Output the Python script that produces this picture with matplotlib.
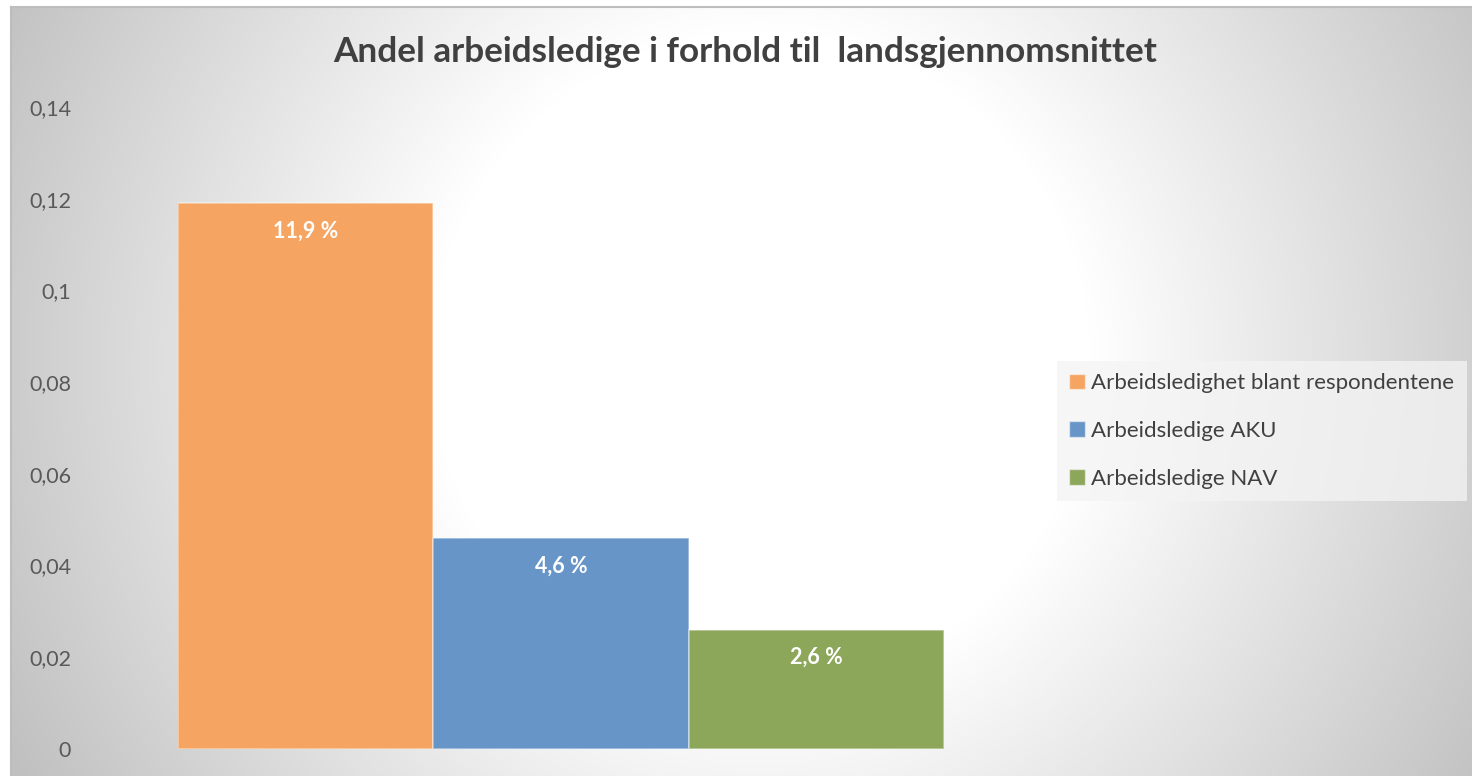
import numpy as np
import matplotlib
matplotlib.use("Agg")
import matplotlib.pyplot as plt
from matplotlib.patches import Patch

# ---- data ----
series = ["Arbeidsledighet blant respondentene", "Arbeidsledige AKU", "Arbeidsledige NAV"]
values = [0.119, 0.046, 0.026]
labels = ["11,9 %", "4,6 %", "2,6 %"]
colors = ["#F5A462", "#6895C7", "#8CA65A"]
yticks = [0, 0.02, 0.04, 0.06, 0.08, 0.10, 0.12, 0.14]
ytick_labels = ["0", "0,02", "0,04", "0,06", "0,08", "0,1", "0,12", "0,14"]
title = "Andel arbeidsledige i forhold til  landsgjennomsnittet"

W, H = 1472, 776
plt.rcParams['font.family'] = ['Lato', 'DejaVu Sans']
fig = plt.figure(figsize=(W / 100, H / 100), dpi=100)
fig.patch.set_facecolor("white")

# ---- background radial gradient ----
left_px, top_px = 11, 7
bg = fig.add_axes([left_px / W, 0, (W - left_px) / W, (H - top_px) / H])
xs = np.arange(left_px, W)
ys = np.arange(top_px, H)
X, Y = np.meshgrid(xs, ys)
cx, cy = 760, 360
d = np.sqrt((X - cx) ** 2 + (Y - cy) ** 2)
r0, r1 = 330, 850
t = np.clip((d - r0) / (r1 - r0), 0, 1)
grey = 1 - t * (255 - 192) / 255
img = np.dstack([grey, grey, grey])
bg.imshow(img, aspect="auto", extent=[0, 1, 0, 1], origin="upper")
bg.set_xlim(0, 1)
bg.set_ylim(0, 1)
bg.set_xticks([])
bg.set_yticks([])
for s in ["right", "bottom"]:
    bg.spines[s].set_visible(False)
for s in ["top", "left"]:
    bg.spines[s].set_color("#bdbdbd")
    bg.spines[s].set_linewidth(1.5)

# ---- main axes ----
ax_l, ax_r = 178, 944
ax_top, ax_bot = 107, 749
ax = fig.add_axes([ax_l / W, (H - ax_bot) / H, (ax_r - ax_l) / W, (ax_bot - ax_top) / H])
ax.patch.set_alpha(0)
x = np.arange(len(values))
bars = ax.bar(x, values, width=1.0, color=colors, edgecolor=(1, 1, 1, 0.45), linewidth=1.2)
ax.set_xlim(-0.5, 2.5)
ax.set_ylim(0, 0.14)
ax.set_yticks(yticks)
ax.set_yticklabels(ytick_labels)
ax.set_xticks([])
ax.tick_params(axis="y", length=0, pad=77, labelsize=15.5, labelcolor="#595959")
for s in ax.spines.values():
    s.set_visible(False)

for xi, v, lab in zip(x, values, labels):
    ax.annotate(lab, (xi, v), xytext=(0, -20), textcoords="offset points",
                ha="center", va="center", color="white", fontsize=15.5, fontweight="bold")

fig.text(745 / W, 1 - 52 / H, title, ha="center", va="center",
         fontsize=25.3, fontweight="bold", color="#404040")

handles = [Patch(facecolor=c, edgecolor=(1, 1, 1, 0.5)) for c in colors]
leg = fig.legend(handles, series, loc="upper left",
                 bbox_to_anchor=(1057 / W, 1 - 361 / H),
                 frameon=True, fancybox=False, facecolor="#f4f4f4", edgecolor="none",
                 framealpha=0.75, fontsize=16, handlelength=0.7, handleheight=0.7,
                 handletextpad=0.3, labelspacing=1.25, borderpad=0.55, borderaxespad=0)
for txt in leg.get_texts():
    txt.set_color("#404040")

fig.savefig("out.png", dpi=100)
